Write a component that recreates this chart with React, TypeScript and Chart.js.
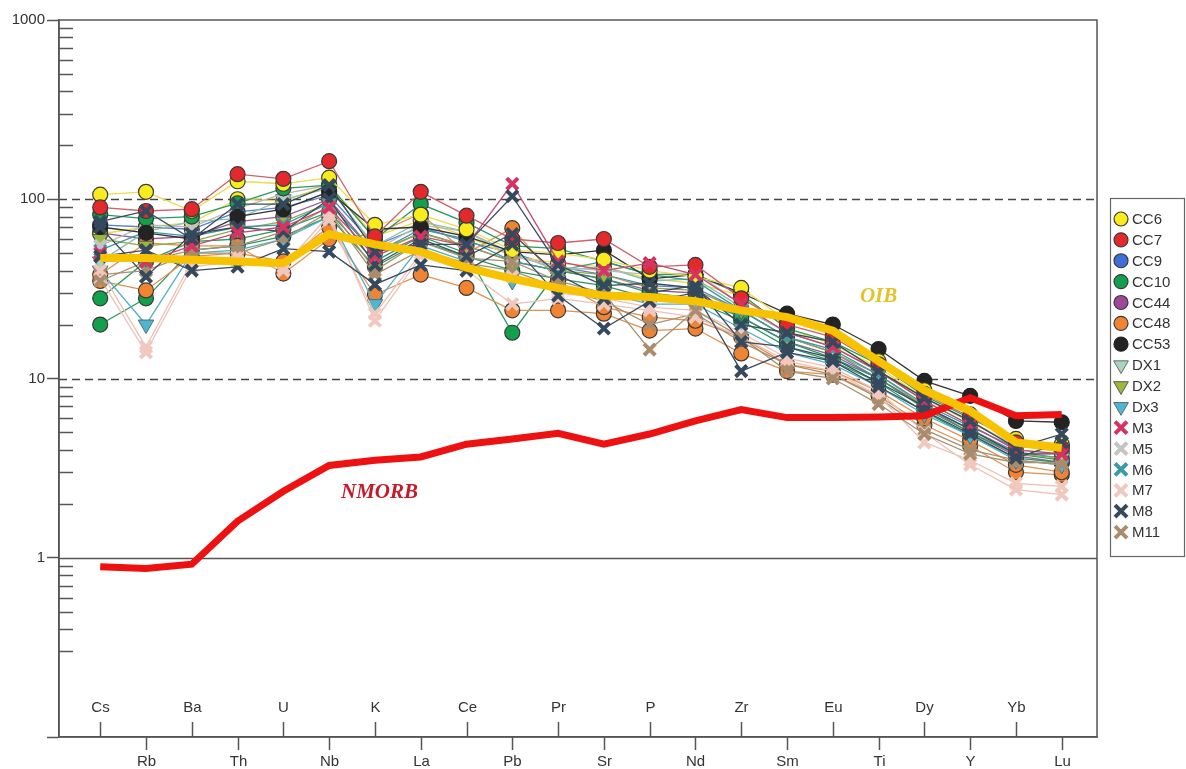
import React, { useEffect, useRef } from "react";
import { Chart, registerables } from "chart.js";

Chart.register(...registerables);

// ---------- data ----------
const elements = ["Cs","Rb","Ba","Th","U","Nb","K","La","Ce","Pb","Pr","Sr","P","Nd","Zr","Sm","Eu","Ti","Dy","Y","Yb","Lu"];
const yTickValues = [0.1, 1, 10, 100, 1000];
const dashedLevels = [10, 100];
const solidLevels = [1];

const oib = [47, 47, 46, 45, 44, 64, 56, 51, 41.5, 36, 32, 29, 28.5, 27, 24, 22, 18.5, 12.5, 8.6, 6.6, 4.4, 4.1];
const nmorb = [0.89, 0.87, 0.92, 1.6, 2.35, 3.27, 3.5, 3.65, 4.3, 4.6, 4.95, 4.3, 4.9, 5.8, 6.7, 6.05, 6.05, 6.1, 6.2, 7.8, 6.2, 6.3];

const cc6a = [106, 110, 86, 126, 122, 132, 72, 82, 68, 52, 50, 46, 40, 37, 32, 21, 17.5, 12.5, 8.6, 6.3, 4.6, 4.3];
const cc6b = [64, 70, 74, 100, 98, 120, 62, 76, 62, 48, 44, 42, 36, 34, 29, 19, 15.5, 11.5, 7.8, 5.7, 4.2, 3.9];
const cc7 = [90, 86, 88, 138, 130, 163, 62, 110, 81, 60, 57, 60, 42, 43, 28, 20, 17, 12, 8.2, 6.1, 4.4, 4.1];
const cc9 = [72, 70, 68, 85, 90, 105, 55, 70, 58, 50, 42, 38, 33, 32, 24, 17, 14, 10, 7, 5.2, 3.9, 3.6];
const cc10a = [82, 78, 80, 95, 115, 120, 60, 94, 74, 55, 53, 45, 38, 38, 29.5, 19, 16, 12, 8, 6, 4.5, 4.2];
const cc10b = [28, 45, 58, 60, 68, 85, 45, 62, 50, 18, 40, 36, 30, 28, 22, 16, 13, 10, 6.8, 5, 3.8, 3.5];
const cc10c = [20, 28, 52, 55, 62, 80, 42, 58, 48, 40, 36, 33, 28, 27, 21, 15, 12.5, 9.5, 6.5, 4.8, 3.6, 3.4];
const cc44 = [65, 60, 62, 75, 80, 100, 50, 65, 55, 45, 40, 36, 31, 30, 22, 16, 13.5, 10, 7, 5, 3.7, 3.4];
const cc48a = [38, 57, 55, 55, 38.5, 60, 64, 83, 50, 69, 35, 25, 22, 21, 17, 12, 11, 8.5, 6, 4.5, 3.3, 3];
const cc48b = [35, 31, 48, 50, 45, 70, 29.4, 38, 32, 24, 24, 23, 18.5, 19, 13.8, 11, 10.5, 8, 5.5, 4.2, 3, 2.9];
const cc53 = [70, 65, 60, 80, 88, 110, 68, 70, 62, 51, 49, 52, 36, 38, 30, 23, 20, 14.6, 9.7, 8, 5.8, 5.7];
const dx1 = [45, 66, 75, 78, 100, 115, 55, 75, 66, 50, 40, 42, 35, 36, 25, 18, 15, 11, 7.5, 5.5, 4, 3.8];
const dx2 = [60, 55, 58, 68, 75, 95, 50, 65, 55, 45, 40, 38, 32, 31, 24, 17, 14, 10.5, 7, 5.2, 3.8, 3.6];
const dx3 = [40, 20, 50, 52, 60, 80, 26, 55, 45, 35, 32, 30, 26, 26, 19, 14, 12, 9, 6.3, 4.8, 3.5, 3.3];
const m3 = [50, 45, 55, 65, 70, 90, 48, 62, 55, 122, 45, 40, 44, 38, 26, 18, 15, 11, 7.5, 5.5, 4, 3.8];
const m5 = [55, 72, 70, 89, 107, 120, 52, 72, 66, 48, 42, 40, 38, 39, 26, 18, 15, 11, 7.8, 5.8, 4.2, 4];
const m6 = [52, 66, 62, 70, 72, 95, 50, 68, 60, 45, 40, 45, 38, 35, 24, 17, 14.5, 10.5, 7.2, 5.4, 4.1, 4.4];
const m7a = [40, 15, 45, 48, 40, 77, 23, 50, 42, 37, 30, 28, 25, 24, 18, 13, 11.5, 8.5, 5, 3.3, 2.4, 2.25];
const m7b = [36, 14, 42, 45, 42, 82, 21, 48, 40, 26, 28, 26, 24, 22, 17, 12.5, 11, 8, 4.4, 3.5, 2.6, 2.5];
const m8a = [75, 86, 60, 94, 94, 120, 51, 56, 56, 104, 43, 33, 34, 32, 20, 18, 16, 11, 7.8, 5.8, 4.1, 4.9];
const m8b = [48, 52, 40, 42, 53, 51, 33.5, 43, 40, 56, 29, 19, 27, 30, 11, 14, 12.5, 9, 6.6, 4.9, 3.6, 4.4];
const m8c = [70, 37, 64, 70, 66, 100, 43, 60, 48, 64, 38, 28, 30, 33, 16, 15, 13, 9.5, 7, 5.2, 3.8, 3.8];
const m11a = [35, 45, 52, 55, 66, 91, 40, 58, 47, 45, 35, 30, 14.5, 24, 17, 11, 10, 7.2, 4.9, 3.8, 3.4, 3.4];
const m11b = [38, 40, 50, 50, 60, 85, 38, 52, 44, 40, 32, 27, 20, 23, 16, 12, 10.5, 7.8, 5.2, 4, 3.5, 3.3];

// ---------- styles ----------
type Grp = { label: string; shape: "circle" | "tri" | "cross"; fill: string; stroke: string; line: string };
const groups: Grp[] = [
  { label: "CC6", shape: "circle", fill: "#f8ec1c", stroke: "#3a3a3a", line: "#eadc4a" },
  { label: "CC7", shape: "circle", fill: "#e3292c", stroke: "#3a3a3a", line: "#d0606a" },
  { label: "CC9", shape: "circle", fill: "#3d6fd6", stroke: "#3a3a3a", line: "#5a80c8" },
  { label: "CC10", shape: "circle", fill: "#12a04c", stroke: "#3a3a3a", line: "#2a9a60" },
  { label: "CC44", shape: "circle", fill: "#a04898", stroke: "#3a3a3a", line: "#9a5a98" },
  { label: "CC48", shape: "circle", fill: "#f08432", stroke: "#3a3a3a", line: "#e09050" },
  { label: "CC53", shape: "circle", fill: "#232323", stroke: "#232323", line: "#333333" },
  { label: "DX1", shape: "tri", fill: "#a6d6bd", stroke: "#6a6a6a", line: "#8ac0a8" },
  { label: "DX2", shape: "tri", fill: "#9ab83a", stroke: "#5a5a5a", line: "#90a848" },
  { label: "Dx3", shape: "tri", fill: "#4cb8d0", stroke: "#5a6a70", line: "#50b0c8" },
  { label: "M3", shape: "cross", fill: "#d63262", stroke: "#d63262", line: "#c84870" },
  { label: "M5", shape: "cross", fill: "#c4c4c4", stroke: "#c4c4c4", line: "#b8b8b8" },
  { label: "M6", shape: "cross", fill: "#3a9aa6", stroke: "#3a9aa6", line: "#3a98a0" },
  { label: "M7", shape: "cross", fill: "#f0c8be", stroke: "#f0c8be", line: "#eec0b4" },
  { label: "M8", shape: "cross", fill: "#34485e", stroke: "#34485e", line: "#3a4a5e" },
  { label: "M11", shape: "cross", fill: "#a88c6c", stroke: "#a88c6c", line: "#a89070" },
];

// listed from top of the stack to bottom
const samples: { group: string; values: number[] }[] = [
  { group: "M8", values: m8a },
  { group: "M8", values: m8b },
  { group: "M3", values: m3 },
  { group: "M8", values: m8c },
  { group: "M11", values: m11a },
  { group: "M7", values: m7a },
  { group: "CC7", values: cc7 },
  { group: "CC6", values: cc6a },
  { group: "M7", values: m7b },
  { group: "CC53", values: cc53 },
  { group: "CC10", values: cc10a },
  { group: "M5", values: m5 },
  { group: "M6", values: m6 },
  { group: "M11", values: m11b },
  { group: "DX1", values: dx1 },
  { group: "DX2", values: dx2 },
  { group: "Dx3", values: dx3 },
  { group: "CC48", values: cc48a },
  { group: "CC48", values: cc48b },
  { group: "CC10", values: cc10b },
  { group: "CC10", values: cc10c },
  { group: "CC6", values: cc6b },
  { group: "CC44", values: cc44 },
  { group: "CC9", values: cc9 },
];

const FONT = "'Liberation Sans', Arial, sans-serif";

function drawMarker(ctx: CanvasRenderingContext2D, g: Grp, x: number, y: number) {
  ctx.save();
  if (g.shape === "circle") {
    ctx.beginPath();
    ctx.arc(x, y, 7, 0, Math.PI * 2);
    ctx.fillStyle = g.fill;
    ctx.fill();
    ctx.lineWidth = 1.2;
    ctx.strokeStyle = g.stroke;
    ctx.stroke();
  } else if (g.shape === "tri") {
    const r = 8.5;
    ctx.beginPath();
    ctx.moveTo(x - r * 0.866, y - r * 0.5);
    ctx.lineTo(x + r * 0.866, y - r * 0.5);
    ctx.lineTo(x, y + r);
    ctx.closePath();
    ctx.fillStyle = g.fill;
    ctx.fill();
    ctx.lineWidth = 1;
    ctx.strokeStyle = g.stroke;
    ctx.stroke();
  } else {
    const s = 6;
    ctx.beginPath();
    ctx.moveTo(x - s, y - s);
    ctx.lineTo(x + s, y + s);
    ctx.moveTo(x + s, y - s);
    ctx.lineTo(x - s, y + s);
    ctx.lineWidth = 4;
    ctx.strokeStyle = g.stroke;
    ctx.stroke();
  }
  ctx.restore();
}

const decor = {
  id: "decor",
  beforeDatasetsDraw(chart: any) {
    const { ctx, chartArea: a, scales } = chart;
    const x = scales.x;
    const y = scales.y;
    ctx.save();
    ctx.strokeStyle = "#444";
    ctx.lineWidth = 1.3;
    ctx.setLineDash([8, 5]);
    dashedLevels.forEach((v) => {
      const py = Math.round(y.getPixelForValue(v)) + 0.5;
      ctx.beginPath();
      ctx.moveTo(a.left, py);
      ctx.lineTo(a.right, py);
      ctx.stroke();
    });
    ctx.setLineDash([]);
    ctx.strokeStyle = "#555";
    solidLevels.forEach((v) => {
      const py = Math.round(y.getPixelForValue(v)) + 0.5;
      ctx.beginPath();
      ctx.moveTo(a.left, py);
      ctx.lineTo(a.right, py);
      ctx.stroke();
    });
    ctx.lineWidth = 1.5;
    [0.1, 1, 10, 100].forEach((d) => {
      for (let m = 2; m <= 9; m++) {
        if (d === 0.1 && m === 2) continue;
        const py = Math.round(y.getPixelForValue(d * m)) + 0.5;
        ctx.beginPath();
        ctx.moveTo(a.left, py);
        ctx.lineTo(a.left + 14, py);
        ctx.stroke();
      }
    });
    ctx.font = `15px ${FONT}`;
    ctx.fillStyle = "#333";
    ctx.textAlign = "center";
    ctx.textBaseline = "middle";
    elements.forEach((el, i) => {
      const px = Math.round(x.getPixelForValue(i)) + 0.5;
      ctx.beginPath();
      if (i % 2 === 0) {
        ctx.moveTo(px, a.bottom);
        ctx.lineTo(px, a.bottom - 15);
        ctx.stroke();
        ctx.fillText(el, px, a.bottom - 29);
      } else {
        ctx.moveTo(px, a.bottom);
        ctx.lineTo(px, a.bottom + 13);
        ctx.stroke();
        ctx.fillText(el, px, a.bottom + 25);
      }
    });
    ctx.restore();
  },
  afterDatasetsDraw(chart: any) {
    const { ctx, chartArea: a, scales } = chart;
    const x = scales.x;
    const y = scales.y;
    ctx.save();
    ctx.strokeStyle = "#555";
    ctx.lineWidth = 1.5;
    ctx.beginPath();
    ctx.moveTo(a.left, a.top);
    ctx.lineTo(a.right, a.top);
    ctx.lineTo(a.right, a.bottom);
    ctx.lineTo(a.left, a.bottom);
    ctx.closePath();
    ctx.stroke();
    ctx.font = `italic bold 21px 'Liberation Serif', 'Times New Roman', serif`;
    ctx.textAlign = "center";
    ctx.textBaseline = "middle";
    ctx.fillStyle = "#e6c22a";
    ctx.fillText("OIB", x.getPixelForValue(17), y.getPixelForValue(28.5));
    ctx.fillStyle = "#c41a2a";
    ctx.fillText("NMORB", x.getPixelForValue(6.1), y.getPixelForValue(2.31));
    const lx = 1110.5, ly = 198.5, lw = 74, lh = 358;
    ctx.strokeStyle = "#666";
    ctx.lineWidth = 1.2;
    ctx.strokeRect(lx, ly, lw, lh);
    ctx.font = `15px ${FONT}`;
    ctx.textAlign = "left";
    groups.forEach((g, k) => {
      const cy = 219 + k * 20.87;
      drawMarker(ctx, g, 1121, cy);
      ctx.fillStyle = "#333";
      ctx.fillText(g.label, 1132, cy + 1);
    });
    ctx.restore();
  },
};

export default function App() {
  const ref = useRef<HTMLCanvasElement | null>(null);
  useEffect(() => {
    if (!ref.current) return;
    const gmap: Record<string, Grp> = {};
    groups.forEach((g) => (gmap[g.label] = g));
    const datasets: any[] = [
      {
        label: "OIB",
        data: oib.map((v, i) => ({ x: i, y: v })),
        borderColor: "#f7c300",
        borderWidth: 8,
        pointRadius: 0,
        tension: 0,
        order: 0,
      },
      {
        label: "NMORB",
        data: nmorb.map((v, i) => ({ x: i, y: v })),
        borderColor: "#ee1111",
        borderWidth: 7,
        pointRadius: 0,
        tension: 0,
        order: 0,
      },
    ];
    samples.forEach((s, idx) => {
      const g = gmap[s.group];
      const base: any = {
        label: s.group,
        data: s.values.map((v, i) => ({ x: i, y: v })),
        borderColor: g.line,
        borderWidth: 1.3,
        tension: 0,
        order: idx + 1,
        pointBackgroundColor: g.fill,
        pointBorderColor: g.stroke,
      };
      if (g.shape === "circle") {
        base.pointStyle = "circle";
        base.pointRadius = 7.5;
        base.pointBorderWidth = 1.2;
      } else if (g.shape === "tri") {
        base.pointStyle = "triangle";
        base.pointRotation = 180;
        base.pointRadius = 9;
        base.pointBorderWidth = 1;
      } else {
        base.pointStyle = "crossRot";
        base.pointRadius = 8;
        base.pointBorderWidth = 4;
      }
      datasets.push(base);
    });
    const chart = new Chart(ref.current, {
      type: "line",
      data: { datasets },
      plugins: [decor],
      options: {
        animation: false,
        responsive: false,
        devicePixelRatio: 1,
        layout: { padding: { top: 20, right: 89, left: 0, bottom: 0 } },
        plugins: { legend: { display: false }, tooltip: { enabled: false } },
        scales: {
          x: {
            type: "linear",
            min: -0.9,
            max: 21.77,
            grid: { display: false },
            ticks: { display: false },
            border: { color: "#555", width: 1.5 },
            afterFit: (s: any) => { s.height = 32; },
          },
          y: {
            type: "logarithmic",
            min: 0.1,
            max: 1000,
            afterBuildTicks: (s: any) => { s.ticks = yTickValues.map((v) => ({ value: v })); },
            ticks: {
              callback: (v: any) => (Number(v) >= 1 ? String(Number(v)) : ""),
              font: { size: 15, family: FONT },
              color: "#333",
              padding: 2,
              autoSkip: false,
            },
            grid: { drawOnChartArea: false, tickLength: 12, tickColor: "#555", tickWidth: 1.5 },
            border: { color: "#555", width: 1.5 },
            afterFit: (s: any) => { s.width = 59; },
          },
        },
      } as any,
    });
    return () => chart.destroy();
  }, []);
  return (
    <div style={{ position: "absolute", left: 0, top: 0, width: 1186, height: 769, background: "#fff" }}>
      <canvas ref={ref} width={1186} height={769} style={{ width: 1186, height: 769, display: "block" }} />
    </div>
  );
}
